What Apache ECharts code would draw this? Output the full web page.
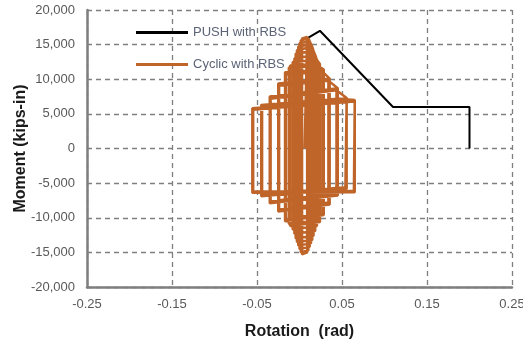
<!DOCTYPE html>
<html>
<head>
<meta charset="utf-8">
<script src="https://cdn.jsdelivr.net/npm/echarts@6/dist/echarts.min.js"></script>
<style>
  html, body { margin: 0; padding: 0; background: #fff; }
  #chart { width: 523px; height: 339px; }
</style>
</head>
<body>
<div id="chart"></div>
<script>
// axis ticks
const rotTicks = [-0.25, -0.15, -0.05, 0.05, 0.15, 0.25];
const momTicks = [-20000, -15000, -10000, -5000, 0, 5000, 10000, 15000, 20000];

// pushover curve (rad, kips-in)
const pushRot = [0.009, 0.024, 0.110, 0.200, 0.200];
const pushMom = [15900, 17000, 6000, 6000, 0];

// cyclic loops, in load order: left/right rotation and corner moments
const loopLeft  = [0.0030, 0.0015, 0.0000, -0.0015, -0.0030, -0.0045, -0.0060, -0.0080, -0.0110, -0.0125, -0.0170, -0.0160, -0.0250, -0.0240, -0.0350, -0.0340, -0.0450, -0.0440, -0.0555, -0.0545];
const loopRight = [0.0090, 0.0105, 0.0120, 0.0135, 0.0150, 0.0165, 0.0185, 0.0205, 0.0240, 0.0225, 0.0285, 0.0270, 0.0355, 0.0340, 0.0450, 0.0435, 0.0555, 0.0540, 0.0650, 0.0640];
const topLeft   = [15900, 15600, 15200, 14700, 14200, 13700, 13000, 12500, 12000, 11700, 11000, 10700, 9400, 9100, 7500, 7200, 6300, 6100, 5800, 5600];
const topRight  = [16100, 15900, 15500, 15100, 14700, 14100, 13500, 12800, 12200, 11900, 11400, 11100, 10100, 9800, 8700, 8400, 7300, 7100, 7000, 6800];
const botLeft   = [-15300, -15000, -14500, -14000, -13500, -13000, -12300, -11700, -11200, -10900, -10500, -10200, -9100, -8800, -7900, -7600, -6900, -6600, -6400, -6200];
const botRight  = [-15000, -14700, -14200, -13700, -13200, -12600, -11900, -11200, -10600, -10300, -9600, -9300, -8100, -7800, -6800, -6500, -5800, -5600, -6300, -6100];

const pushData = pushRot.map((r, i) => [r, pushMom[i]]);

const cyclicData = [[0.006, 0]];
loopLeft.forEach((l, i) => {
  const r = loopRight[i];
  cyclicData.push([r, topRight[i]]);
  cyclicData.push([r, botRight[i]]);
  cyclicData.push([l, botLeft[i]]);
  cyclicData.push([l, topLeft[i]]);
  cyclicData.push([r, topRight[i]]);
});

const gridColor = '#7f7f7f';
const labelColor = '#595959';
const font = 'Liberation Sans, Arial, sans-serif';

const chart = echarts.init(document.getElementById('chart'));
chart.setOption({
  animation: false,
  backgroundColor: '#fff',
  grid: { left: 87, right: 11, top: 10, bottom: 52, outerBoundsMode: 'none' },
  legend: {
    orient: 'vertical',
    left: 136,
    top: 26,
    padding: 0,
    icon: 'rect',
    itemWidth: 52,
    itemHeight: 3,
    itemGap: 19,
    textStyle: { color: '#5b6477', fontSize: 13, fontFamily: font },
    data: ['PUSH with RBS', 'Cyclic with RBS'],
  },
  xAxis: {
    type: 'value',
    min: rotTicks[0],
    max: rotTicks[rotTicks.length - 1],
    interval: 0.1,
    name: 'Rotation  (rad)',
    nameLocation: 'middle',
    nameGap: 37,
    nameTextStyle: { color: '#1a1a1a', fontSize: 16, fontWeight: 'bold', fontFamily: font },
    axisLine: { show: true, onZero: false, lineStyle: { color: gridColor, width: 2.5 } },
    axisTick: { show: false },
    axisLabel: {
      color: labelColor, fontSize: 13, margin: 11, fontFamily: font,
      formatter: v => v.toFixed(2),
    },
    splitLine: { show: true, lineStyle: { color: gridColor, width: 1.3, type: [5, 4] } },
  },
  yAxis: {
    type: 'value',
    min: momTicks[0],
    max: momTicks[momTicks.length - 1],
    interval: 5000,
    name: 'Moment (kips-in)',
    nameLocation: 'middle',
    nameGap: 58,
    nameMoveOverlap: false,
    nameTextStyle: { color: '#1a1a1a', fontSize: 16, fontWeight: 'bold', fontFamily: font },
    axisLine: { show: true, onZero: false, lineStyle: { color: gridColor, width: 2.5 } },
    axisTick: { show: false },
    axisLabel: {
      color: labelColor, fontSize: 13, margin: 12, fontFamily: font,
      formatter: v => v.toLocaleString('en-US'),
    },
    splitLine: { show: true, lineStyle: { color: gridColor, width: 1.3, type: [5, 4] } },
  },
  series: [
    {
      name: 'PUSH with RBS',
      type: 'line',
      data: pushData,
      symbol: 'none',
      lineStyle: { color: '#000', width: 2 },
      itemStyle: { color: '#000' },
    },
    {
      name: 'Cyclic with RBS',
      type: 'line',
      data: cyclicData,
      symbol: 'none',
      lineStyle: { color: '#c0652a', width: 2.5 },
      itemStyle: { color: '#c0652a' },
    },
  ],
});
</script>
</body>
</html>
